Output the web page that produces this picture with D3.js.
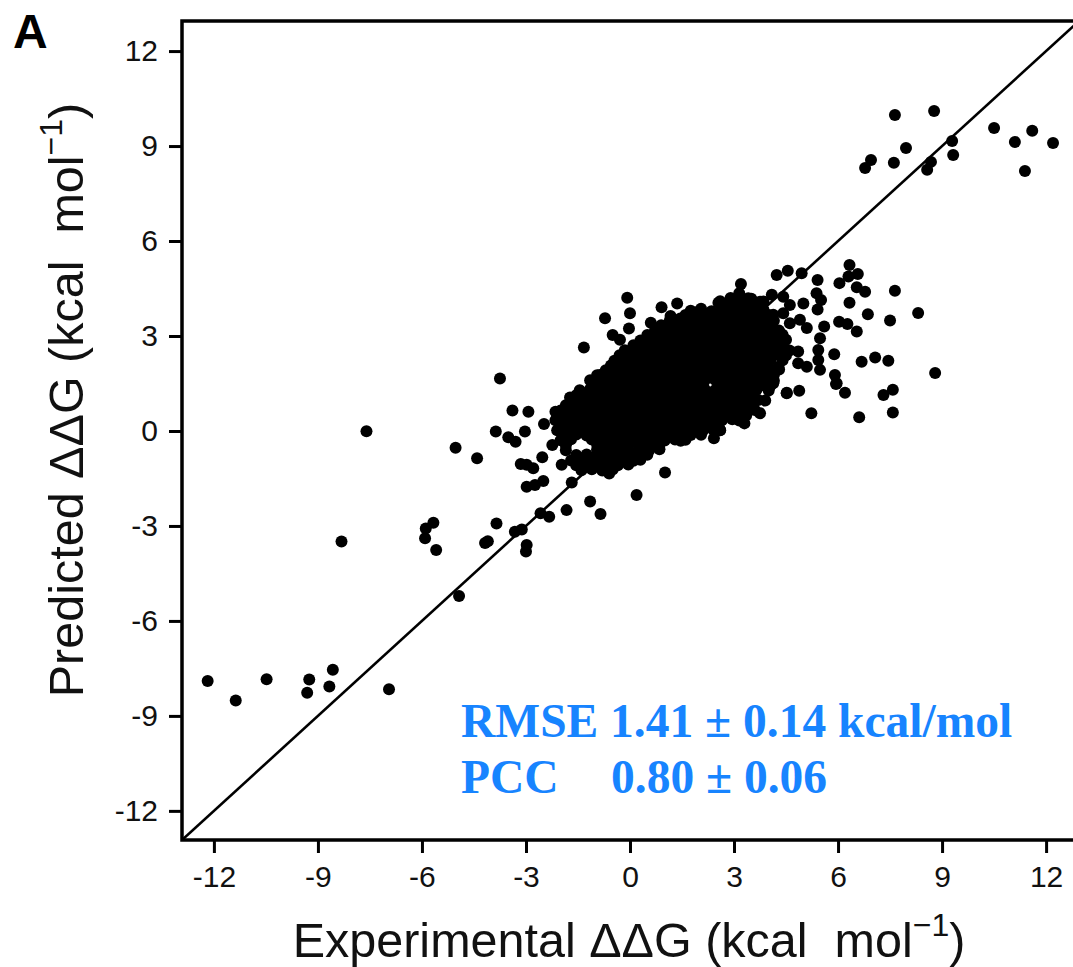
<!DOCTYPE html>
<html><head><meta charset="utf-8">
<script src="https://cdn.jsdelivr.net/npm/d3@7"></script>
<style>
body{margin:0;background:#fff}
svg{display:block}
</style></head><body>
<svg id="chart" width="1073" height="967"></svg>
<script>
// ---- data ----
const xTicks = [-12, -9, -6, -3, 0, 3, 6, 9, 12];
const yTicks = [-12, -9, -6, -3, 0, 3, 6, 9, 12];
const xDomain = [-12.92, 12.92];
const yDomain = [-12.92, 12.95];
const panelLabel = "A";
const statsRMSE = ["RMSE", "1.41 ± 0.14 kcal/mol"];
const statsPCC = ["PCC", "0.80 ± 0.06"];

const upperRightPts = [[7.64,9.98],[8.77,10.11],[6.95,8.56],[6.78,8.31],[7.61,8.47],[7.96,8.94],[9.29,9.16],[9.32,8.72],[8.68,8.50],[8.57,8.25],[10.50,9.57],[11.10,9.13],[11.60,9.48],[12.20,9.10],[11.39,8.21]];

const lowerLeftPts = [[-12.18,-7.90],[-11.37,-8.51],[-10.48,-7.84],[-9.25,-7.85],[-9.31,-8.27],[-8.57,-7.54],[-8.67,-8.07],[-6.95,-8.16]];

const leftPts = [[-7.60,-0.01],[-8.32,-3.49],[-4.93,-5.21],[-3.75,1.66],[-3.39,0.65],[-2.93,0.61],[-3.87,-0.02],[-3.51,-0.20],[-3.30,-0.34],[-3.03,-0.02],[-5.03,-0.53],[-4.41,-0.86],[-5.67,-2.90],[-5.89,-3.08],[-5.91,-3.39],[-5.59,-3.76],[-3.85,-2.92],[-4.10,-3.48],[-4.18,-3.54],[-3.32,-3.18],[-3.12,-3.11],[-2.98,-3.60],[-3.00,-3.81],[-3.15,-1.04],[-2.98,-1.07],[-2.79,-1.18],[-2.53,-0.83],[-2.98,-1.76],[-2.74,-1.71],[-2.50,-1.58],[-2.24,-0.44],[-1.97,-1.07],[-1.68,-1.63],[-1.15,-2.23],[-1.83,-2.50],[-2.58,-2.60],[-2.33,-2.71],[-0.85,-2.62],[0.19,-2.02],[1.01,-1.31],[-0.60,-1.34],[-2.48,0.22],[-1.73,1.06],[-2.15,0.61],[-2.07,0.56]];

const upperLoosePts = [[-0.08,4.21],[0.00,3.72],[-0.03,3.24],[-0.72,3.56],[-0.50,3.03],[-0.29,2.88],[-1.33,2.64],[-0.29,2.30],[0.60,3.42],[0.91,3.91],[1.36,4.03],[1.17,3.63],[1.92,3.75],[2.55,4.05],[3.20,4.64],[3.15,4.35],[3.41,4.19],[3.51,4.09],[-0.87,1.77],[-0.48,1.66],[-1.15,1.30]];

const rightLoosePts = [[6.33,5.24],[6.57,4.96],[6.30,4.88],[6.04,4.67],[6.54,4.54],[6.78,4.40],[7.64,4.43],[6.33,4.05],[6.86,3.69],[7.50,3.49],[6.03,3.45],[6.27,3.38],[6.54,3.14],[5.89,2.42],[6.68,2.19],[7.07,2.32],[7.45,2.22],[5.91,1.77],[5.96,1.51],[6.20,1.21],[5.94,1.48],[7.31,1.14],[7.58,1.30],[7.58,0.58],[6.61,0.43],[5.23,0.56],[4.88,1.27],[4.52,1.21],[5.41,4.77],[4.95,4.98],[4.55,5.06],[4.23,4.93],[5.38,4.35],[5.51,4.14],[5.00,4.03],[5.41,3.84],[5.60,3.30],[5.48,2.93],[5.43,2.56],[5.43,2.24],[5.48,1.93],[5.10,2.03],[4.85,2.14],[4.85,2.51],[4.52,2.56],[4.38,2.35],[4.28,2.03],[4.33,2.98],[4.61,3.40],[4.90,3.51],[5.10,3.25],[4.13,3.67],[4.42,3.72],[4.09,3.40],[3.85,4.09],[4.09,4.30],[4.42,4.24],[4.61,3.98],[4.52,1.19],[4.13,1.51],[3.75,0.56],[3.30,0.24],[3.22,0.56],[3.46,0.82],[2.60,0.03],[2.42,-0.23],[1.46,-0.31],[8.80,1.83],[8.31,3.73]];

const clusterCorePts = [
[2.60,4.10],[2.90,4.20],[3.20,4.12],[3.50,4.18],[3.75,4.08],
[1.75,3.80],[2.05,3.86],[2.35,3.78],[2.65,3.84],[2.95,3.80],[3.25,3.86],[3.55,3.78],[3.85,3.83],
[1.15,3.50],[1.45,3.55],[1.75,3.48],[2.05,3.52],[2.35,3.50],[2.65,3.55],[2.95,3.49],[3.25,3.52],[3.55,3.50],[3.85,3.54],[4.15,3.48],
[0.72,3.17],[1.00,3.22],[1.30,3.18],[1.60,3.20],[1.90,3.16],[2.20,3.21],[2.50,3.19],[2.80,3.22],[3.10,3.17],[3.40,3.20],[3.70,3.18],[4.00,3.22],[4.30,3.17],
[0.30,2.86],[0.60,2.90],[0.90,2.87],[1.20,2.91],[1.50,2.86],[1.80,2.89],[2.10,2.88],[2.40,2.92],[2.70,2.86],[3.00,2.89],[3.30,2.87],[3.60,2.91],[3.90,2.86],[4.20,2.90],[4.50,2.88],
[-0.15,2.55],[0.15,2.58],[0.45,2.54],[0.75,2.57],[1.05,2.55],[1.35,2.59],[1.65,2.54],[1.95,2.57],[2.25,2.56],[2.55,2.58],[2.85,2.54],[3.15,2.57],[3.45,2.55],[3.75,2.59],[4.05,2.55],[4.35,2.57],[4.60,2.54],
[-0.45,2.22],[-0.15,2.26],[0.15,2.23],[0.45,2.25],[0.75,2.22],[1.05,2.26],[1.35,2.24],[1.65,2.21],[1.95,2.25],[2.25,2.23],[2.55,2.26],[2.85,2.22],[3.15,2.25],[3.45,2.24],[3.75,2.22],[4.05,2.26],[4.40,2.23],
[-0.70,1.92],[-0.40,1.95],[-0.10,1.91],[0.20,1.94],[0.50,1.92],[0.80,1.95],[1.10,1.93],[1.40,1.90],[1.70,1.94],[2.00,1.92],[2.30,1.95],[2.60,1.91],[2.90,1.94],[3.20,1.93],[3.50,1.90],[3.80,1.95],[4.10,1.92],[4.30,1.94],
[-1.15,1.60],[-0.85,1.63],[-0.55,1.59],[-0.25,1.62],[0.05,1.60],[0.35,1.64],[0.65,1.61],[0.95,1.58],[1.25,1.62],[1.55,1.60],[1.85,1.63],[2.15,1.59],[2.45,1.62],[2.75,1.61],[3.05,1.58],[3.35,1.63],[3.65,1.60],[3.95,1.62],[4.15,1.59],
[-1.45,1.29],[-1.15,1.32],[-0.85,1.28],[-0.55,1.31],[-0.25,1.30],[0.05,1.33],[0.35,1.28],[0.65,1.31],[0.95,1.29],[1.25,1.32],[1.55,1.28],[1.85,1.30],[2.15,1.33],[2.45,1.29],[2.75,1.31],[3.05,1.28],[3.35,1.32],[3.65,1.30],[4.00,1.28],
[-1.70,0.97],[-1.40,1.00],[-1.10,0.96],[-0.80,0.99],[-0.50,0.98],[-0.20,1.01],[0.10,0.96],[0.40,0.99],[0.70,0.97],[1.00,1.00],[1.30,0.96],[1.60,0.99],[1.90,0.98],[2.20,1.01],[2.50,0.97],[2.80,0.99],[3.10,0.96],[3.40,1.00],[3.70,0.98],[3.90,0.96],
[-2.00,0.65],[-1.70,0.68],[-1.40,0.64],[-1.10,0.67],[-0.80,0.66],[-0.50,0.69],[-0.20,0.64],[0.10,0.67],[0.40,0.65],[0.70,0.68],[1.00,0.64],[1.30,0.67],[1.60,0.66],[1.90,0.69],[2.20,0.64],[2.50,0.67],[2.80,0.65],[3.10,0.68],[3.40,0.64],[3.60,0.66],
[-2.15,0.34],[-1.85,0.37],[-1.55,0.33],[-1.25,0.36],[-0.95,0.35],[-0.65,0.38],[-0.35,0.33],[-0.05,0.36],[0.25,0.34],[0.55,0.37],[0.85,0.33],[1.15,0.36],[1.45,0.35],[1.75,0.38],[2.05,0.33],[2.35,0.36],[2.65,0.34],[2.95,0.37],[3.15,0.33],
[-2.10,0.02],[-1.80,0.05],[-1.50,0.01],[-1.20,0.04],[-0.90,0.03],[-0.60,0.06],[-0.30,0.01],[0.00,0.04],[0.30,0.02],[0.60,0.05],[0.90,0.01],[1.20,0.04],[1.50,0.03],[1.80,0.06],[2.10,0.01],[2.40,0.04],[2.60,0.02],
[-2.00,-0.29],[-1.70,-0.26],[-1.10,-0.27],[-0.80,-0.28],[-0.50,-0.25],[-0.20,-0.30],[0.10,-0.27],[0.40,-0.29],[0.70,-0.26],[1.00,-0.30],[1.30,-0.27],[1.60,-0.28],
[-1.85,-0.61],[-0.95,-0.59],[-0.65,-0.60],[-0.35,-0.57],[-0.05,-0.62],[0.25,-0.59],[0.55,-0.61],[0.85,-0.58],
[-1.70,-0.93],[-1.40,-0.90],[-1.10,-0.94],[-0.80,-0.91],[-0.50,-0.92],[-0.20,-0.89],[0.10,-0.94],[0.30,-0.91],
[-1.40,-1.24],[-1.10,-1.21],[-0.80,-1.25],[-0.50,-1.22]
];

// points sitting between the core rows (fill the dense blob)
const clusterFillPts = [
[2.75,3.98],[3.05,4.00],[3.35,3.97],[3.65,3.99],
[1.60,3.66],[1.90,3.68],[2.20,3.65],[2.50,3.69],[2.80,3.66],[3.10,3.68],[3.40,3.65],[3.70,3.67],[4.00,3.66],
[0.90,3.34],[1.20,3.36],[1.50,3.33],[1.80,3.37],[2.10,3.34],[2.40,3.36],[2.70,3.33],[3.00,3.35],[3.30,3.34],[3.60,3.37],[3.90,3.33],
[0.50,3.03],[0.80,3.05],[1.10,3.02],[1.40,3.06],[1.70,3.03],[2.00,3.05],[2.30,3.02],[2.60,3.04],[2.90,3.03],[3.20,3.06],[3.50,3.02],[3.80,3.05],[4.10,3.03],[4.40,3.04],
[0.10,2.71],[0.40,2.73],[0.70,2.70],[1.00,2.74],[1.30,2.71],[1.60,2.73],[1.90,2.70],[2.20,2.72],[2.50,2.71],[2.80,2.74],[3.10,2.70],[3.40,2.73],[3.70,2.71],[4.00,2.72],[4.30,2.70],
[-0.30,2.39],[0.00,2.41],[0.30,2.38],[0.60,2.42],[0.90,2.39],[1.20,2.41],[1.50,2.38],[1.80,2.40],[2.10,2.39],[2.40,2.42],[2.70,2.38],[3.00,2.41],[3.30,2.39],[3.60,2.40],[3.90,2.38],[4.20,2.41],[4.50,2.39],
[-0.55,2.07],[-0.25,2.09],[0.05,2.06],[0.35,2.10],[0.65,2.07],[0.95,2.09],[1.25,2.06],[1.55,2.08],[1.85,2.07],[2.15,2.10],[2.45,2.06],[2.75,2.09],[3.05,2.07],[3.35,2.08],[3.65,2.06],[3.95,2.09],
[-0.95,1.76],[-0.65,1.78],[-0.35,1.75],[-0.05,1.79],[0.25,1.76],[0.55,1.78],[0.85,1.75],[1.15,1.77],[1.45,1.76],[1.75,1.79],[2.05,1.75],[2.35,1.78],[2.65,1.76],[2.95,1.77],[3.25,1.75],[3.55,1.78],[3.85,1.76],[4.15,1.77],
[-1.00,1.46],[-0.70,1.43],[-0.40,1.47],[-0.10,1.44],[0.20,1.46],[0.50,1.43],[0.80,1.45],[1.10,1.44],[1.40,1.47],[1.70,1.43],[2.00,1.46],[2.60,1.45],[2.90,1.43],[3.20,1.46],[3.50,1.44],[3.80,1.45],[4.05,1.43],
[-1.55,1.13],[-1.25,1.15],[-0.95,1.12],[-0.65,1.16],[-0.35,1.13],[-0.05,1.15],[0.25,1.12],[0.55,1.14],[0.85,1.13],[1.15,1.16],[1.45,1.12],[1.75,1.15],[2.05,1.13],[2.35,1.14],[2.65,1.12],[2.95,1.15],[3.25,1.13],[3.55,1.14],
[-1.85,0.81],[-1.55,0.83],[-1.25,0.80],[-0.95,0.84],[-0.65,0.81],[-0.35,0.83],[-0.05,0.80],[0.25,0.82],[0.55,0.81],[0.85,0.84],[1.15,0.80],[1.45,0.83],[1.75,0.81],[2.05,0.82],[2.35,0.80],[2.65,0.83],[2.95,0.81],[3.25,0.82],[3.55,0.80],
[-2.05,0.50],[-1.75,0.52],[-1.45,0.49],[-1.15,0.53],[-0.85,0.50],[-0.55,0.52],[-0.25,0.49],[0.05,0.51],[0.35,0.50],[0.65,0.53],[0.95,0.49],[1.25,0.52],[1.55,0.50],[1.85,0.51],[2.15,0.49],[2.45,0.52],[2.75,0.50],[3.05,0.51],[3.35,0.49],
[-1.95,0.18],[-1.65,0.20],[-1.35,0.17],[-1.05,0.21],[-0.75,0.18],[-0.45,0.20],[-0.15,0.17],[0.15,0.19],[0.45,0.18],[0.75,0.21],[1.05,0.17],[1.35,0.20],[1.65,0.18],[1.95,0.19],[2.25,0.17],[2.55,0.20],
[-1.85,-0.13],[-1.55,-0.11],[-1.25,-0.14],[-0.95,-0.10],[-0.65,-0.13],[-0.35,-0.11],[-0.05,-0.14],[0.25,-0.12],[0.55,-0.13],[0.85,-0.10],[1.15,-0.14],[1.45,-0.11],[1.75,-0.13],[2.05,-0.12],
[-1.85,-0.45],[-0.95,-0.42],[-0.65,-0.45],[-0.35,-0.43],[-0.05,-0.46],[0.25,-0.44],[0.55,-0.45],[0.85,-0.42],
[-1.55,-0.76],[-1.25,-0.74],[-0.95,-0.77],[-0.65,-0.73],[-0.35,-0.76],[-0.05,-0.74],[0.25,-0.77],[0.50,-0.75],
[-1.55,-1.08],[-1.25,-1.06],[-0.95,-1.09],[-0.65,-1.05],[-0.35,-1.08],[-0.05,-1.06]
];

// ---- chart ----
const svg = d3.select("#chart");
const plot = {left: 182, right: 1078, top: 21, bottom: 840};
const x = d3.scaleLinear().domain(xDomain).range([plot.left, plot.right]);
const y = d3.scaleLinear().domain(yDomain).range([plot.bottom, plot.top]);

svg.append("rect").attr("width", 1073).attr("height", 967).attr("fill", "#fff");

svg.append("defs").append("clipPath").attr("id", "clip")
  .append("rect").attr("x", plot.left).attr("y", plot.top)
  .attr("width", plot.right - plot.left).attr("height", plot.bottom - plot.top);

const g = svg.append("g").attr("clip-path", "url(#clip)");

const allPts = [].concat(clusterCorePts, clusterFillPts, upperLoosePts, rightLoosePts, leftPts, upperRightPts, lowerLeftPts);
g.selectAll("circle").data(allPts).join("circle")
  .attr("cx", d => x(d[0])).attr("cy", d => y(d[1]))
  .attr("r", 6).attr("fill", "#000");

// identity line
g.append("line")
  .attr("x1", x(xDomain[0])).attr("y1", y(xDomain[0]))
  .attr("x2", x(xDomain[1])).attr("y2", y(xDomain[1]))
  .attr("stroke", "#000").attr("stroke-width", 2.6);

// frame
svg.append("rect")
  .attr("x", plot.left).attr("y", plot.top)
  .attr("width", plot.right - plot.left).attr("height", plot.bottom - plot.top)
  .attr("fill", "none").attr("stroke", "#000").attr("stroke-width", 3.5);

const fmt = d => String(d);
const xAxis = svg.append("g").attr("transform", `translate(0,${plot.bottom})`)
  .call(d3.axisBottom(x).tickValues(xTicks).tickFormat(fmt).tickSize(13).tickPadding(13));
const yAxis = svg.append("g").attr("transform", `translate(${plot.left},0)`)
  .call(d3.axisLeft(y).tickValues(yTicks).tickFormat(fmt).tickSize(13).tickPadding(11));
[xAxis, yAxis].forEach(a => {
  a.select(".domain").remove();
  a.selectAll(".tick line").attr("stroke", "#000").attr("stroke-width", 3);
  a.selectAll(".tick text").attr("fill", "#111")
    .style("font-family", "'Liberation Sans', Arial, sans-serif").style("font-size", "30px");
});

// axis titles
const titleFont = "'Liberation Sans', Arial, sans-serif";
function addTitle(sel, label) {
  sel.style("font-family", titleFont).style("font-size", "48.5px").attr("fill", "#111")
    .attr("xml:space", "preserve").style("white-space", "pre");
  sel.append("tspan").text(label + " \u0394\u0394G (kcal  mol");
  sel.append("tspan").attr("dy", -21).style("font-size", "32px").text("\u22121");
  sel.append("tspan").attr("dy", 21).text(")");
}
addTitle(svg.append("text").attr("x", 629).attr("y", 957).attr("text-anchor", "middle"), "Experimental");
addTitle(svg.append("text").attr("transform", "translate(83,400) rotate(-90)").attr("text-anchor", "middle"), "Predicted");

// panel label
svg.append("text").attr("x", 13).attr("y", 48).text(panelLabel)
  .style("font-family", titleFont).style("font-weight", "bold").style("font-size", "48px").attr("fill", "#000");

// stats annotation
const statsFont = "'Liberation Serif', 'Times New Roman', serif";
const st = svg.append("g").attr("fill", "#1784FF")
  .style("font-family", statsFont).style("font-weight", "bold").style("font-size", "47.5px");
st.append("text").attr("x", 461).attr("y", 737).text(statsRMSE.join(" "));
const p = st.append("text").attr("y", 793);
p.append("tspan").attr("x", 461).text(statsPCC[0]);
p.append("tspan").attr("x", 611).text(statsPCC[1]);
</script>
</body></html>
